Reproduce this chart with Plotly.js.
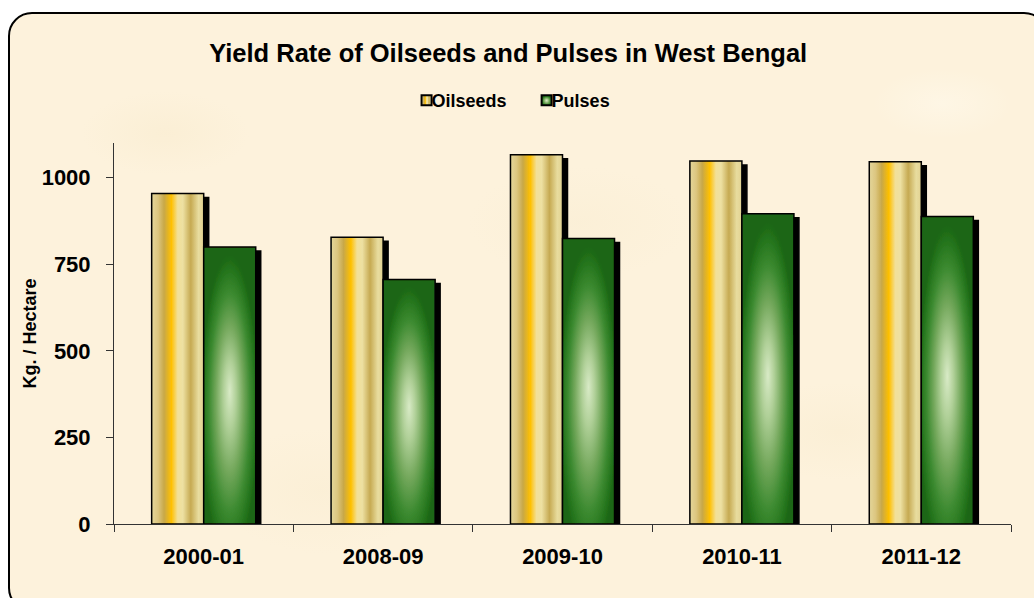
<!DOCTYPE html>
<html>
<head>
<meta charset="utf-8">
<script src="https://cdn.plot.ly/plotly-3.0.1.min.js"></script>
<style>
  html, body { margin:0; padding:0; width:1034px; height:598px; overflow:hidden; background:#ffffff; }
  #frame {
    position:absolute; left:8px; top:12px; width:1040px; height:600px;
    border:2px solid #000; border-radius:24px; box-sizing:border-box;
    background-color:#fdf2dc;
    background-image:
      radial-gradient(ellipse 120px 60px at 15% 20%, rgba(246,232,200,0.35), rgba(246,232,200,0) 70%),
      radial-gradient(ellipse 160px 80px at 55% 35%, rgba(247,234,204,0.30), rgba(247,234,204,0) 70%),
      radial-gradient(ellipse 140px 70px at 80% 70%, rgba(246,232,200,0.30), rgba(246,232,200,0) 70%),
      radial-gradient(ellipse 150px 90px at 30% 80%, rgba(247,233,202,0.30), rgba(247,233,202,0) 70%),
      radial-gradient(ellipse 100px 50px at 90% 15%, rgba(255,250,238,0.5), rgba(255,250,238,0) 70%);
  }
  #chart { position:absolute; left:0; top:0; width:1034px; height:598px; }
</style>
</head>
<body>
<div id="frame"></div>
<div id="chart"></div>
<script>
const categories = ['2000-01', '2008-09', '2009-10', '2010-11', '2011-12'];
const oilseeds = [954, 828, 1066, 1048, 1046];
const pulses = [800, 706, 824, 896, 888];
const yTicks = [0, 250, 500, 750, 1000];
const seriesNames = ['Oilseeds', 'Pulses'];
const chartTitle = 'Yield Rate of Oilseeds and Pulses in West Bengal';
const yTitle = 'Kg. / Hectare';

const FONT = '"Liberation Sans", Arial, sans-serif';

const traces = [
  { type:'bar', name:seriesNames[0], x:categories, y:oilseeds,
    marker:{ color:'#e8c850', line:{ color:'#000', width:1.5 } }, hoverinfo:'x+y' },
  { type:'bar', name:seriesNames[1], x:categories, y:pulses,
    marker:{ color:'#3a8a30', line:{ color:'#000', width:1.5 } }, hoverinfo:'x+y' }
];

const layout = {
  width:1034, height:598,
  paper_bgcolor:'rgba(0,0,0,0)', plot_bgcolor:'rgba(0,0,0,0)',
  margin:{ l:114, r:23, t:143, b:74 },
  font:{ family:FONT, color:'#000' },
  title:{ text:'<b>' + chartTitle + '</b>', font:{ size:25.5, family:FONT, color:'#000' },
          xref:'container', yref:'container', x:0.4915, y:0.9105, xanchor:'center', yanchor:'middle' },
  showlegend:true,
  legend:{ orientation:'h', xref:'container', yref:'container', x:0.487, y:0.832,
           xanchor:'center', yanchor:'middle', bgcolor:'rgba(0,0,0,0)',
           font:{ size:18, family:FONT, color:'#000', weight:'bold' }, itemwidth:30, traceorder:'normal' },
  barmode:'group', bargap:0.42, bargroupgap:0,
  xaxis:{ type:'category', showline:true, linecolor:'#333', linewidth:1,
          ticks:'outside', tickson:'boundaries', ticklen:7, tickcolor:'#333', tickwidth:1,
          showgrid:false, zeroline:false,
          tickfont:{ size:22, family:FONT, color:'#000', weight:'bold' }, ticklabelstandoff:13 },
  yaxis:{ range:[0,1100], showline:true, linecolor:'#333', linewidth:1,
          ticks:'outside', ticklen:7, tickcolor:'#333', tickwidth:1,
          tickvals:yTicks, ticktext:yTicks.map(String),
          showgrid:false, zeroline:false,
          tickfont:{ size:22, family:FONT, color:'#000', weight:'bold' }, ticklabelstandoff:11,
          title:{ text:'<b>' + yTitle + '</b>', font:{ size:18, family:FONT, color:'#000' }, standoff:0 } }
};

const NS = 'http://www.w3.org/2000/svg';
function makeEl(tag, attrs, parent) {
  const el = document.createElementNS(NS, tag);
  for (const k in attrs) el.setAttribute(k, attrs[k]);
  if (parent) parent.appendChild(el);
  return el;
}

Plotly.newPlot('chart', traces, layout, { displayModeBar:false, staticPlot:true }).then(gd => {
  const svg = gd.querySelector('svg.main-svg');
  let defs = svg.querySelector('defs');
  if (!defs) defs = makeEl('defs', {}, svg);

  const oil = makeEl('linearGradient', { id:'oilGrad', x1:'0', y1:'0', x2:'1', y2:'0' }, defs);
  [[0,'#e4d69a'],[0.12,'#dcc680'],[0.24,'#c8a848'],[0.38,'#ffc000'],[0.5,'#f2e098'],
   [0.6,'#ede0a2'],[0.75,'#c6aa52'],[0.9,'#e8dc9e'],[1,'#e2d292']].forEach(s =>
    makeEl('stop', { offset:s[0], 'stop-color':s[1] }, oil));

  const pul = makeEl('radialGradient', { id:'pulGrad', cx:'0.5', cy:'0.58', r:'0.55', fx:'0.5', fy:'0.52' }, defs);
  [[0,'#d8eac6'],[0.22,'#b0d098'],[0.48,'#74a85c'],[0.72,'#3c8a30'],[0.9,'#24741c'],[1,'#1c6614']].forEach(s =>
    makeEl('stop', { offset:s[0], 'stop-color':s[1] }, pul));

  const filt = makeEl('filter', { id:'barShadow', x:'-10%', y:'-10%', width:'130%', height:'130%' }, defs);
  makeEl('feDropShadow', { dx:'5', dy:'4', stdDeviation:'0', 'flood-color':'#000', 'flood-opacity':'1' }, filt);

  const barTraces = svg.querySelectorAll('.barlayer .trace');
  barTraces.forEach((t, i) => {
    t.querySelectorAll('.point path').forEach(p => {
      p.style.fill = i === 0 ? 'url(#oilGrad)' : 'url(#pulGrad)';
      p.style.filter = 'url(#barShadow)';
    });
  });

  const legendTraces = gd.querySelectorAll('.legend .traces');
  legendTraces.forEach((t, i) => {
    const pts = t.querySelector('.legendpoints');
    if (pts) pts.setAttribute('transform', 'translate(15,0)');
    t.querySelectorAll('.legendpoints path').forEach(p => {
      p.style.fill = i === 0 ? 'url(#oilGrad)' : 'url(#pulGrad)';
      p.style.stroke = '#000';
      p.style.strokeWidth = '2px';
      p.setAttribute('d', 'M5,5H-5V-5H5Z');
    });
  });
});
</script>
</body>
</html>
